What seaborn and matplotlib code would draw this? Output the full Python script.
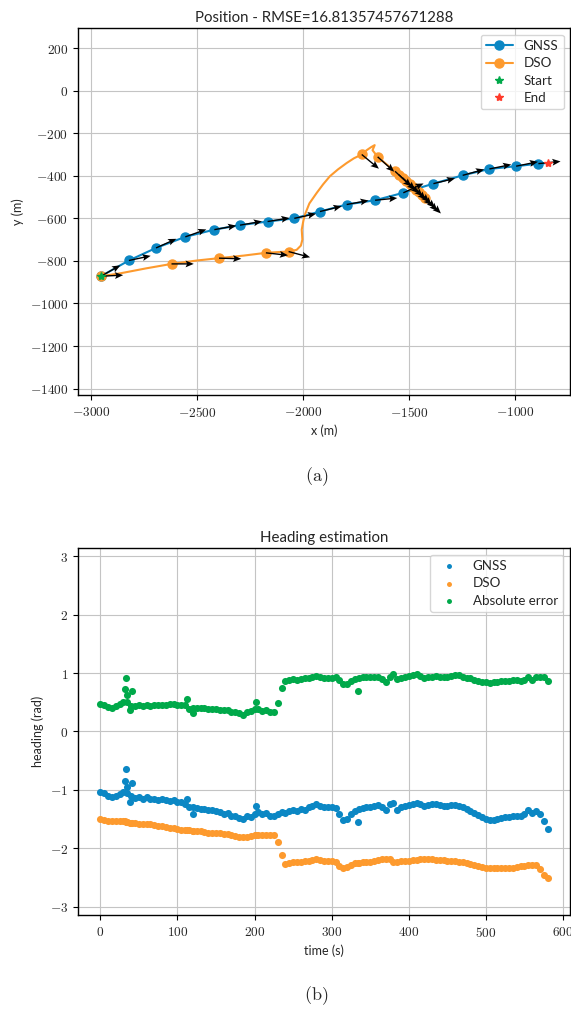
import numpy as np
import pandas as pd
import matplotlib
matplotlib.use('Agg')
import matplotlib.pyplot as plt
from matplotlib.ticker import FuncFormatter, MultipleLocator
import seaborn as sns

sns.set_style('ticks')
plt.rcParams['font.family'] = ['Lato', 'DejaVu Sans']
plt.rcParams['mathtext.fontset'] = 'cm'

c_gnss = '#0b87c4'
c_dso = '#fd9a2e'
c_err = '#00a94a'
c_end = '#ff3b2b'

# --- position (a) ---
# GNSS track, last point is the end position
gnss_x = [-2953, -2821, -2693, -2555, -2418, -2297, -2167, -2041, -1920, -1794, -1660,
          -1527, -1385, -1247, -1121, -995, -890, -846]
gnss_y = [-872, -798, -739, -687, -653, -632, -615, -600, -568, -535, -515,
          -480, -437, -398, -368, -355, -343, -340]
gnss_yaw = [0.51, 0.21, 0.42, 0.34, 0.18, 0.17, 0.16, 0.21, 0.24, 0.18, 0.10,
            0.43, 0.24, 0.27, 0.20, 0.20, 0.10]

dso_x = [-2953, -2860, -2740, -2620, -2500, -2396, -2280, -2175, -2110, -2068, -2030,
         -2010, -2003, -2006, -1998, -1990, -1970, -1935, -1905, -1873, -1835, -1794,
         -1760, -1723, -1700, -1678, -1662, -1672, -1648, -1605, -1566, -1548, -1530,
         -1512, -1496, -1481, -1467, -1453, -1439, -1425]
dso_y = [-872, -858, -835, -814, -798, -787, -775, -762, -758, -756, -748,
         -728, -700, -653, -610, -580, -530, -480, -440, -402, -370, -340,
         -318, -300, -280, -265, -256, -280, -311, -347, -379, -395, -410,
         -425, -439, -452, -465, -478, -491, -504]
dso_keyframes = [0, 3, 5, 7, 9, 23, 28, 30, 31, 32, 33, 34, 35, 36, 37, 38, 39]
dso_yaw = [0.05, 0.0, -0.03, -0.11, -0.26, -0.69, -0.73, -0.75, -0.74, -0.76, -0.75,
           -0.77, -0.75, -0.78, -0.76, -0.79, -0.77]
rmse = 16.81357457671288

# --- heading (b) ---
t = list(range(0, 581, 5))
gnss_heading = [-1.03, -1.05, -1.10, -1.13, -1.10, -1.07, -1.03, -1.05, -1.11, -1.14,
                -1.12, -1.15, -1.13, -1.15, -1.16, -1.17, -1.15, -1.18, -1.19, -1.18,
                -1.21, -1.20, -1.25, -1.30, -1.29, -1.31, -1.33, -1.32, -1.35, -1.34,
                -1.37, -1.38, -1.41, -1.40, -1.44, -1.45, -1.48, -1.50, -1.44, -1.46,
                -1.41, -1.38, -1.42, -1.40, -1.44, -1.44, -1.41, -1.38, -1.39, -1.37,
                -1.35, -1.36, -1.33, -1.34, -1.30, -1.28, -1.24, -1.27, -1.30, -1.29,
                -1.30, -1.31, -1.42, -1.52, -1.50, -1.41, -1.36, -1.33, -1.31, -1.30,
                -1.29, -1.27, -1.26, -1.30, -1.35, -1.24, -1.22, -1.35, -1.30, -1.28,
                -1.26, -1.24, -1.22, -1.25, -1.27, -1.26, -1.25, -1.25, -1.26, -1.27,
                -1.27, -1.26, -1.26, -1.27, -1.30, -1.33, -1.36, -1.40, -1.43, -1.47,
                -1.50, -1.52, -1.51, -1.50, -1.48, -1.47, -1.46, -1.45, -1.44, -1.45,
                -1.42, -1.35, -1.40, -1.36, -1.42, -1.53, -1.67]
dso_heading = [-1.50, -1.52, -1.53, -1.53, -1.53, -1.54, -1.54, -1.55, -1.57, -1.57,
               -1.58, -1.58, -1.58, -1.59, -1.60, -1.61, -1.62, -1.64, -1.66, -1.66,
               -1.67, -1.68, -1.68, -1.69, -1.70, -1.70, -1.71, -1.72, -1.73, -1.73,
               -1.74, -1.74, -1.75, -1.76, -1.78, -1.79, -1.80, -1.80, -1.80, -1.79,
               -1.78, -1.78, -1.77, -1.77, -1.77, -1.78, -1.90, -2.12, -2.27, -2.25,
               -2.24, -2.24, -2.23, -2.22, -2.21, -2.20, -2.19, -2.20, -2.21, -2.21,
               -2.22, -2.24, -2.30, -2.33, -2.32, -2.28, -2.26, -2.25, -2.24, -2.24,
               -2.23, -2.22, -2.20, -2.19, -2.18, -2.18, -2.24, -2.24, -2.22, -2.21,
               -2.21, -2.20, -2.20, -2.19, -2.19, -2.19, -2.19, -2.20, -2.20, -2.20,
               -2.21, -2.21, -2.22, -2.23, -2.24, -2.25, -2.27, -2.28, -2.30, -2.32,
               -2.34, -2.34, -2.34, -2.34, -2.34, -2.34, -2.33, -2.33, -2.32, -2.31,
               -2.30, -2.29, -2.28, -2.29, -2.35, -2.46, -2.51]
abs_error = [0.47, 0.46, 0.42, 0.40, 0.44, 0.47, 0.51, 0.50, 0.44, 0.43,
             0.46, 0.44, 0.45, 0.44, 0.46, 0.45, 0.46, 0.45, 0.47, 0.47,
             0.46, 0.45, 0.46, 0.39, 0.41, 0.40, 0.40, 0.40, 0.39, 0.38,
             0.38, 0.37, 0.36, 0.37, 0.34, 0.34, 0.32, 0.29, 0.34, 0.35,
             0.38, 0.38, 0.35, 0.37, 0.34, 0.34, 0.49, 0.74, 0.87, 0.88,
             0.89, 0.88, 0.90, 0.91, 0.92, 0.93, 0.95, 0.93, 0.91, 0.92,
             0.92, 0.93, 0.88, 0.81, 0.82, 0.87, 0.90, 0.92, 0.93, 0.94,
             0.94, 0.94, 0.94, 0.89, 0.84, 0.94, 0.98, 0.89, 0.92, 0.93,
             0.95, 0.96, 0.98, 0.95, 0.92, 0.93, 0.94, 0.95, 0.94, 0.93,
             0.94, 0.95, 0.96, 0.96, 0.94, 0.92, 0.91, 0.88, 0.87, 0.85,
             0.84, 0.83, 0.84, 0.85, 0.86, 0.87, 0.87, 0.88, 0.88, 0.86,
             0.88, 0.94, 0.88, 0.93, 0.94, 0.93, 0.86]
# isolated outlier samples
t_out = [32, 33, 35, 39, 41, 113, 120, 202, 334]
gnss_out = [-0.84, -0.65, -0.95, -1.21, -0.89, -1.15, -1.41, -1.27, -1.55]
dso_out = [-1.54, -1.55, -1.55, -1.57, -1.57, -1.68, -1.70, -1.78, -2.25]
err_out = [0.72, 0.91, 0.63, 0.37, 0.69, 0.55, 0.31, 0.50, 0.70]

fig = plt.figure(figsize=(5.71, 10.09), dpi=100)
ax1 = fig.add_axes([0.1366, 0.6085, 0.8620, 0.3637])
ax2 = fig.add_axes([0.1366, 0.0932, 0.8616, 0.3637])

tick_fmt = FuncFormatter(lambda v, p: f'${v:.0f}$')

# top: trajectories
ax1.plot(gnss_x, gnss_y, color=c_gnss, lw=1.5, marker='o', ms=6.5,
         markevery=list(range(len(gnss_yaw))), label='GNSS', zorder=2)
ax1.plot(dso_x, dso_y, color=c_dso, lw=1.5, marker='o', ms=6.5,
         markevery=dso_keyframes, label='DSO', zorder=3)
gx = np.array(gnss_x[:len(gnss_yaw)])
gy = np.array(gnss_y[:len(gnss_yaw)])
ax1.quiver(gx, gy, 105 * np.cos(gnss_yaw), 105 * np.sin(gnss_yaw),
           angles='xy', scale_units='xy', scale=1, color='k', width=0.0028,
           headwidth=5, headlength=6, headaxislength=5, zorder=4)
kx = np.array(dso_x)[dso_keyframes]
ky = np.array(dso_y)[dso_keyframes]
ax1.quiver(kx, ky, 105 * np.cos(dso_yaw), 105 * np.sin(dso_yaw),
           angles='xy', scale_units='xy', scale=1, color='k', width=0.0028,
           headwidth=5, headlength=6, headaxislength=5, zorder=4)
ax1.plot(gnss_x[0], gnss_y[0], ls='none', marker='*', ms=6, color=c_err, label='Start', zorder=5)
ax1.plot(gnss_x[-1], gnss_y[-1], ls='none', marker='*', ms=6, color=c_end, label='End', zorder=5)

ax1.set_xlim(-3061, -740)
ax1.set_ylim(-1430, 294)
ax1.xaxis.set_major_locator(MultipleLocator(500))
ax1.yaxis.set_major_locator(MultipleLocator(200))
ax1.set_title(f'Position - RMSE={rmse}', fontsize=10.8, pad=4)
ax1.set_xlabel('x (m)', fontsize=9)
ax1.set_ylabel('y (m)', fontsize=9)
ax1.legend(loc='upper right', fontsize=9.6, handlelength=2.0, borderpad=0.4, labelspacing=0.4)

# bottom: heading scatter
ax2 = sns.scatterplot(x=t + t_out, y=gnss_heading + gnss_out, color=c_gnss, s=26,
                      linewidth=0, label='GNSS', ax=ax2, zorder=3)
sns.scatterplot(x=t + t_out, y=dso_heading + dso_out, color=c_dso, s=26,
                linewidth=0, label='DSO', ax=ax2, zorder=3)
sns.scatterplot(x=t + t_out, y=abs_error + err_out, color=c_err, s=26,
                linewidth=0, label='Absolute error', ax=ax2, zorder=3)
ax2.set_xlim(-29, 609)
ax2.set_ylim(-np.pi, np.pi)
ax2.xaxis.set_major_locator(MultipleLocator(100))
ax2.yaxis.set_major_locator(MultipleLocator(1))
ax2.set_title('Heading estimation', fontsize=10.8, pad=4)
ax2.set_xlabel('time (s)', fontsize=9)
ax2.set_ylabel('heading (rad)', fontsize=9)
ax2.legend(loc='upper right', fontsize=9.6, markerscale=0.7, borderpad=0.4, labelspacing=0.4)

for ax in (ax1, ax2):
    ax.grid(True, color='#c4c4c4', lw=0.8, zorder=0)
    ax.set_axisbelow(True)
    ax.xaxis.set_major_formatter(tick_fmt)
    ax.yaxis.set_major_formatter(tick_fmt)
    ax.tick_params(labelsize=9.6, length=3.5, width=0.8, color='k')
    for s in ax.spines.values():
        s.set_color('k')
        s.set_linewidth(1.0)

fig.text(0.555, 0.528, r'$\mathrm{(a)}$', fontsize=13, ha='center', va='center')
fig.text(0.553, 0.013, r'$\mathrm{(b)}$', fontsize=13, ha='center', va='center')

fig.savefig('out.png', dpi=100)
